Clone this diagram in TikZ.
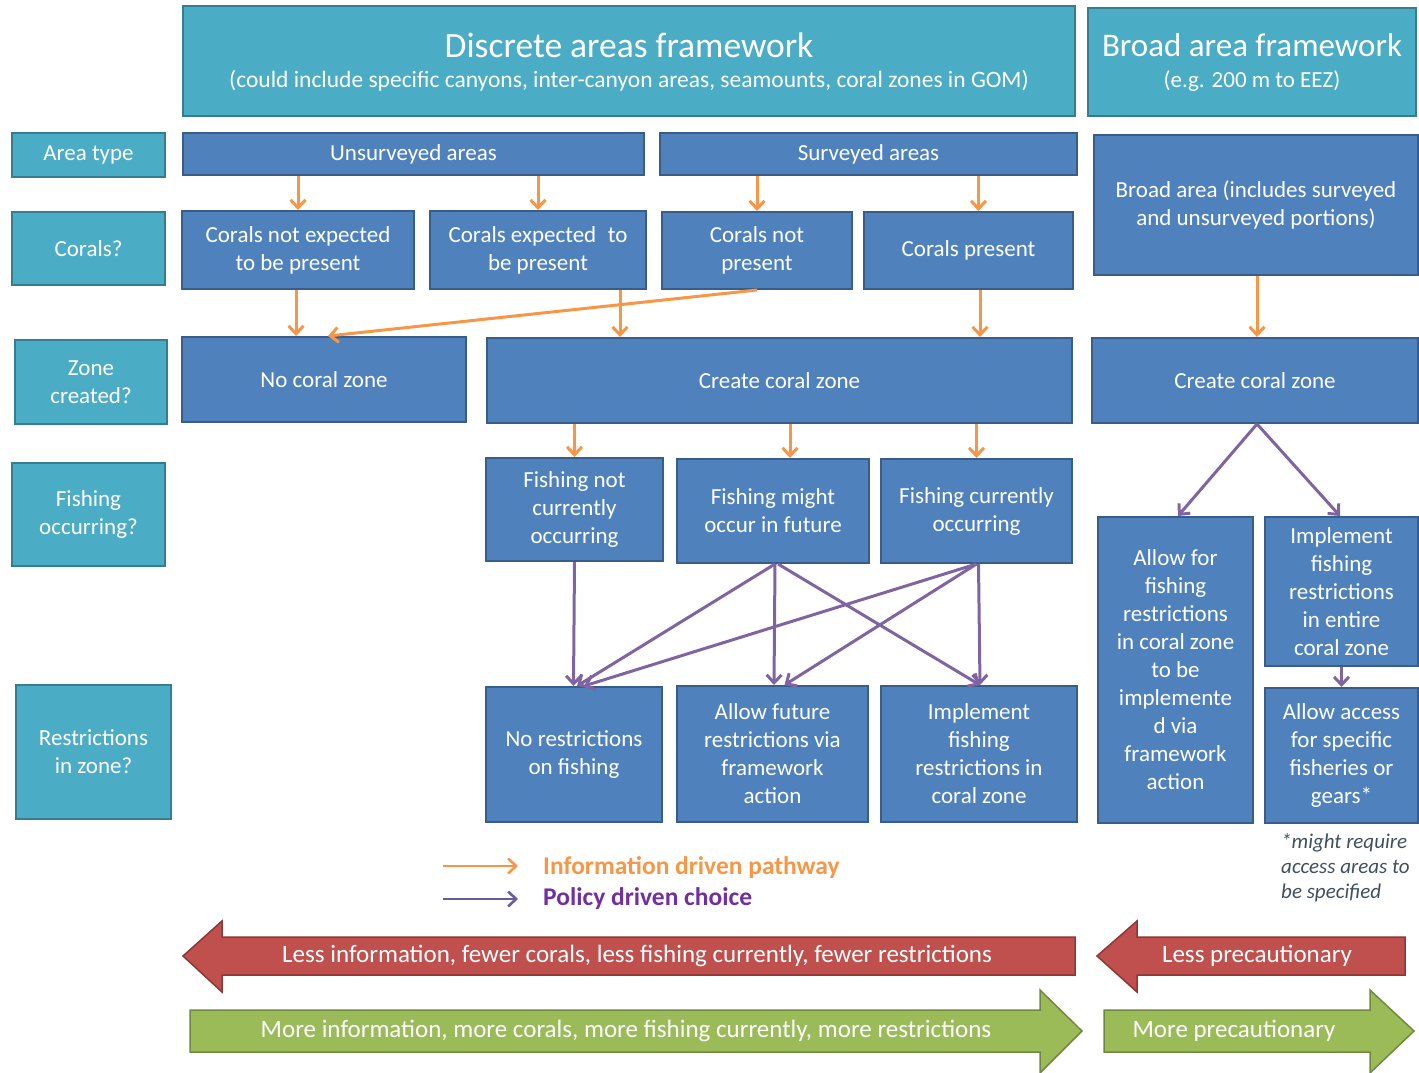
\documentclass[tikz,border=0pt]{standalone}
\usepackage{fontspec}
\setmainfont{Carlito}
\usetikzlibrary{arrows.meta}
\definecolor{tealF}{HTML}{4BACC6}
\definecolor{tealD}{HTML}{357D91}
\definecolor{blueF}{HTML}{4F81BD}
\definecolor{blueD}{HTML}{385D8A}
\definecolor{orangeA}{HTML}{F79646}
\definecolor{purpleA}{HTML}{8064A2}
\definecolor{purpleL}{HTML}{6A5C9A}
\definecolor{purpleT}{HTML}{7030A0}
\definecolor{redF}{HTML}{C0504D}
\definecolor{redD}{HTML}{8C3836}
\definecolor{greenF}{HTML}{9BBB59}
\definecolor{greenD}{HTML}{71893F}
\definecolor{noteC}{HTML}{3F4F5F}
\begin{document}
\begin{tikzpicture}[x=1pt,y=-1pt,
  box/.style={draw, line width=2pt, text=white, align=center, inner sep=2pt,
    font=\fontsize{23}{28}\selectfont},
  tealbox/.style={box, fill=tealF, draw=tealD},
  bluebox/.style={box, fill=blueF, draw=blueD},
  wh/.style 2 args={minimum width=#1pt, minimum height=#2pt},
  oarr/.style={draw=orangeA, line width=3pt, -{Straight Barb[length=8pt,width=15pt]}},
  parr/.style={draw=purpleA, line width=3pt, -{Straight Barb[length=8pt,width=15pt]}},
  bigtext/.style={text=white, font=\fontsize{25}{28}\selectfont, inner sep=0pt},
  titletext/.style={text=white, anchor=base, inner sep=0pt}
]
\useasboundingbox (0,0) rectangle (1419,1073);

% frameworks
\node[tealbox, wh={892}{110}] (disc) at (629,61) {};
\node[titletext, font=\fontsize{35.5}{40}\selectfont] (disct) at (629,58) {Discrete areas framework};
\node[titletext, font=\fontsize{23.5}{28}\selectfont] (discs) at (629,88) {(could include specific canyons, inter-canyon areas, seamounts, coral zones in GOM)};
\node[tealbox, wh={328}{108}] (broadf) at (1252,62) {};
\node[titletext, font=\fontsize{33}{40}\selectfont] (broadt) at (1252,57) {Broad area framework};
\node[titletext, font=\fontsize{23}{28}\selectfont] (broads) at (1252,88) {(e.g. 200 m to EEZ)};

% row labels
\node[tealbox, wh={153}{44}] (lab1) at (88.5,155) {Area type};
\node[tealbox, wh={153}{73}] (lab2) at (88.5,248.5) {Corals?};
\node[tealbox, wh={152}{84}] (lab3) at (91,382) {Zone\\created?};
\node[tealbox, wh={153}{103}] (lab4) at (88.5,514.5) {Fishing\\occurring?};
\node[tealbox, wh={155}{134}] (lab5) at (93.5,752) {Restrictions\\in zone?};

% area types
\node[bluebox, wh={461}{42}] (unsurv) at (413.5,154) {Unsurveyed areas};
\node[bluebox, wh={417}{42}] (surv) at (868.5,154) {Surveyed areas};
\node[bluebox, wh={324}{140}] (broad) at (1256,205) {Broad area (includes surveyed\\and unsurveyed portions)};

% corals
\node[bluebox, wh={232}{78}] (cne) at (298,250) {Corals not expected\\to be present};
\node[bluebox, wh={216}{78}] (ce) at (538,250) {Corals expected\enspace to\\be present};
\node[bluebox, wh={190}{77}] (cnp) at (757,250.5) {Corals not\\present};
\node[bluebox, wh={209}{77}] (cp) at (968.5,250.5) {Corals present};

% zones
\node[bluebox, wh={284}{85}] (ncz) at (324,379.5) {No coral zone};
\node[bluebox, wh={585}{85}] (ccz) at (779.5,380.5) {Create coral zone};
\node[bluebox, wh={326}{85}] (cczr) at (1255,380.5) {Create coral zone};

% fishing
\node[bluebox, wh={177}{103}] (fnc) at (574.5,509.5) {Fishing not\\currently\\occurring};
\node[bluebox, wh={192}{104}] (fmo) at (773,511) {Fishing might\\occur in future};
\node[bluebox, wh={191}{104}] (fco) at (976.5,511) {Fishing currently\\occurring};

% restrictions
\node[bluebox, wh={176}{135}] (nr) at (574,754.5) {No restrictions\\on fishing};
\node[bluebox, wh={191}{136}] (afr) at (772.5,754) {Allow future\\restrictions via\\framework\\action};
\node[bluebox, wh={196}{136}] (ifr) at (979,754) {Implement\\fishing\\restrictions in\\coral zone};
\node[bluebox, wh={155}{306}] (aff) at (1175.5,670) {Allow for\\fishing\\restrictions\\in coral zone\\to be\\implemente\\d via\\framework\\action};
\node[bluebox, wh={153}{149}] (ife) at (1341.5,591.5) {Implement\\fishing\\restrictions\\in entire\\coral zone};
\node[bluebox, wh={153}{135}] (aaf) at (1341.5,755.5) {Allow access\\for specific\\fisheries or\\gears*};

% orange arrows
\draw[oarr] (unsurv.south -| cne.north) -- (cne.north);
\draw[oarr] (unsurv.south -| ce.north) -- (ce.north);
\draw[oarr] (surv.south -| cnp.north) -- (cnp.north);
\draw[oarr] ([xshift=10pt]cp.north |- surv.south) -- ([xshift=10pt]cp.north);
\draw[oarr] ([xshift=-2pt]cne.south) -- ([xshift=-2pt]cne.south |- ncz.north);
\draw[oarr] (cnp.south) -- ([xshift=4pt]ncz.north);
\draw[oarr] ([xshift=82pt]ce.south) -- ([xshift=82pt]ce.south |- ccz.north);
\draw[oarr] ([xshift=11.5pt]cp.south) -- ([xshift=11.5pt]cp.south |- ccz.north);
\draw[oarr] ([xshift=1pt]broad.south) -- ([xshift=1pt]broad.south |- cczr.north);
\draw[oarr] (fnc.north |- ccz.south) -- (fnc.north);
\draw[oarr] ([xshift=17pt]fmo.north |- ccz.south) -- ([xshift=17pt]fmo.north);
\draw[oarr] (fco.north |- ccz.south) -- (fco.north);

% purple arrows
\draw[parr] (fnc.south) -- ([xshift=-0.5pt]nr.north);
\draw[parr] ([xshift=2pt]fmo.south) -- ([xshift=3pt]nr.north);
\draw[parr] ([xshift=2pt]fmo.south) -- ([xshift=1.5pt]afr.north);
\draw[parr] ([xshift=5pt]fmo.south) -- ([xshift=1pt]ifr.north);
\draw[parr] (fco.south) -- ([xshift=10pt]nr.north);
\draw[parr] (fco.south) -- ([xshift=12pt]afr.north);
\draw[parr] ([xshift=2pt]fco.south) -- ([xshift=1pt]ifr.north);
\draw[parr] ([xshift=2pt]cczr.south) -- ([xshift=2.5pt]aff.north);
\draw[parr] ([xshift=2pt]cczr.south) -- ([xshift=-1.5pt]ife.north);
\draw[parr] (ife.south) -- (aaf.north);

% legend
\coordinate (l1a) at (443,866);
\coordinate (l1b) at (518,866);
\coordinate (l2a) at (443,899);
\coordinate (l2b) at (518,899);
\draw[oarr, line width=2.6pt] (l1a) -- (l1b);
\draw[parr, draw=purpleL, line width=2.6pt] (l2a) -- (l2b);
\node[anchor=west, inner sep=0pt, text=orangeA, font=\bfseries\fontsize{25.5}{28}\selectfont] (leg1) at (543,868) {Information driven pathway};
\node[anchor=west, inner sep=0pt, text=purpleT, font=\bfseries\fontsize{25.5}{28}\selectfont] (leg2) at (543,899) {Policy driven choice};

% footnote
\node[anchor=north west, align=left, inner sep=0pt, text=noteC, font=\itshape\fontsize{21}{25}\selectfont] (note) at (1281,833)
  {*might require\\access areas to\\be specified};

% bottom arrows
\draw[fill=redF, draw=redD, line width=1.5pt] (1075,937) -- (222,937) -- (222,921) -- (183,956) -- (222,992) -- (222,975) -- (1075,975) -- cycle;
\node[bigtext] (less1) at (637,956) {Less information, fewer corals, less fishing currently, fewer restrictions};
\draw[fill=redF, draw=redD, line width=1.5pt] (1405,937) -- (1137,937) -- (1137,921) -- (1097,956) -- (1137,992) -- (1137,975) -- (1405,975) -- cycle;
\node[bigtext] (less2) at (1257,956) {Less precautionary};
\draw[fill=greenF, draw=greenD, line width=1.5pt] (190,1010) -- (1040,1010) -- (1040,990) -- (1082,1031) -- (1040,1073) -- (1040,1052) -- (190,1052) -- cycle;
\node[bigtext] (more1) at (626,1031) {More information, more corals, more fishing currently, more restrictions};
\draw[fill=greenF, draw=greenD, line width=1.5pt] (1104,1010) -- (1370,1010) -- (1370,990) -- (1414,1031) -- (1370,1073) -- (1370,1052) -- (1104,1052) -- cycle;
\node[bigtext] (more2) at (1234,1031) {More precautionary};
\end{tikzpicture}
\end{document}
